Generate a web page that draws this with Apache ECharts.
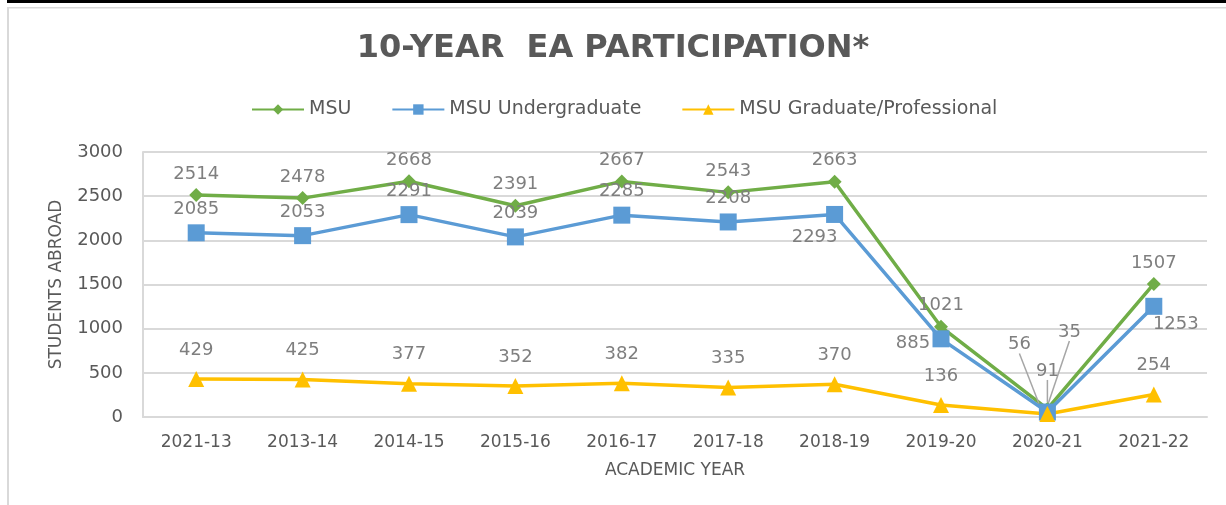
<!DOCTYPE html>
<html>
<head>
<meta charset="utf-8">
<script src="https://cdn.jsdelivr.net/npm/echarts@6/dist/echarts.min.js"></script>
<style>
  html, body { margin: 0; padding: 0; background: #fff; }
  #chart { width: 1226px; height: 505px; }
</style>
</head>
<body>
<div id="chart"></div>
<script>
// academic years (first label kept as printed in the source chart)
var years = ['2021-13', '2013-14', '2014-15', '2015-16', '2016-17', '2017-18', '2018-19', '2019-20', '2020-21', '2021-22']
var msuTotal = [2514, 2478, 2668, 2391, 2667, 2543, 2663, 1021, 91, 1507]
var msuUndergrad = [2085, 2053, 2291, 2039, 2285, 2208, 2293, 885, 56, 1253]
var msuGrad = [429, 425, 377, 352, 382, 335, 370, 136, 35, 254]
var yTicks = [0, 500, 1000, 1500, 2000, 2500, 3000]

var green = '#70ad47'
var blue = '#5b9bd5'
var gold = '#ffc000'
var labelGrey = '#7f7f7f'
var textGrey = '#595959'
var font = 'DejaVu Sans'

// label moves (dx, dy) for points whose label is not simply on top
var undergradMoves = { 6: [-20, 46], 7: [-28, 28], 8: [-28, -44], 9: [22, 42] }
var totalMoves = { 8: [0, -17] }
var gradMoves = { 8: [22, -53] }

var chart = echarts.init(document.getElementById('chart'))

function buildSeries (name, values, color, symbol, size, distance, moves) {
  return {
    name: name,
    type: 'line',
    data: values.map(function (v, i) {
      var item = { value: v }
      if (i === 8) {
        item.labelLine = { show: true }
      }
      return item
    }),
    symbol: symbol,
    symbolSize: size,
    lineStyle: { color: color, width: 3.5 },
    itemStyle: { color: color },
    label: {
      show: true,
      position: 'top',
      distance: distance,
      color: labelGrey,
      fontFamily: font,
      fontSize: 18
    },
    labelLine: {
      show: false,
      lineStyle: { color: '#a6a6a6', width: 1.5 }
    },
    labelLayout: function (params) {
      var m = moves[params.dataIndex]
      if (!m) return {}
      return { dx: m[0], dy: m[1] }
    },
    z: 3
  }
}

chart.setOption({
  animation: false,
  title: {
    text: '10-YEAR  EA PARTICIPATION*',
    left: 'center',
    top: 28,
    textStyle: {
      fontFamily: 'DejaVu Sans',
      fontWeight: 'bold',
      fontSize: 32,
      color: textGrey
    }
  },
  legend: {
    top: 95,
    left: 246,
    itemWidth: 52,
    itemHeight: 13,
    itemGap: 40,
    textStyle: { fontFamily: font, fontSize: 19, color: textGrey },
    data: ['MSU', 'MSU Undergraduate', 'MSU Graduate/Professional']
  },
  grid: {
    left: 143,
    right: 19,
    top: 152,
    bottom: 88
  },
  xAxis: {
    type: 'category',
    data: years,
    name: 'ACADEMIC YEAR',
    nameLocation: 'middle',
    nameGap: 45,
    nameTextStyle: { fontFamily: font, fontSize: 17, color: textGrey },
    axisLine: { lineStyle: { color: '#d9d9d9', width: 2 } },
    axisTick: { show: false },
    axisLabel: {
      margin: 17,
      fontFamily: font,
      fontSize: 17,
      color: textGrey
    }
  },
  yAxis: {
    type: 'value',
    min: yTicks[0],
    max: yTicks[yTicks.length - 1],
    interval: yTicks[1] - yTicks[0],
    name: 'STUDENTS ABROAD',
    nameLocation: 'middle',
    nameGap: 78,
    nameTextStyle: { fontFamily: font, fontSize: 17, color: textGrey },
    axisLine: { show: true, lineStyle: { color: '#d9d9d9', width: 2 } },
    axisTick: { show: false },
    splitLine: { lineStyle: { color: '#d9d9d9', width: 2 } },
    axisLabel: {
      margin: 20,
      fontFamily: font,
      fontSize: 18,
      color: textGrey,
      formatter: function (v) { return String(v) }
    }
  },
  graphic: [
    { type: 'rect', shape: { x: 7, y: 0, width: 1219, height: 3 }, style: { fill: '#000' } },
    { type: 'rect', shape: { x: 7, y: 7, width: 1219, height: 1.5 }, style: { fill: '#d9d9d9' } },
    { type: 'rect', shape: { x: 7, y: 7, width: 2, height: 498 }, style: { fill: '#d9d9d9' } }
  ],
  series: [
    buildSeries('MSU', msuTotal, green, 'diamond', 14, 5, totalMoves),
    buildSeries('MSU Undergraduate', msuUndergrad, blue, 'rect', 17, 6, undergradMoves),
    buildSeries('MSU Graduate/Professional', msuGrad, gold, 'triangle', 16, 12, gradMoves)
  ]
})

window.onresize = function () {
  chart.resize()
}
</script>
</body>
</html>
